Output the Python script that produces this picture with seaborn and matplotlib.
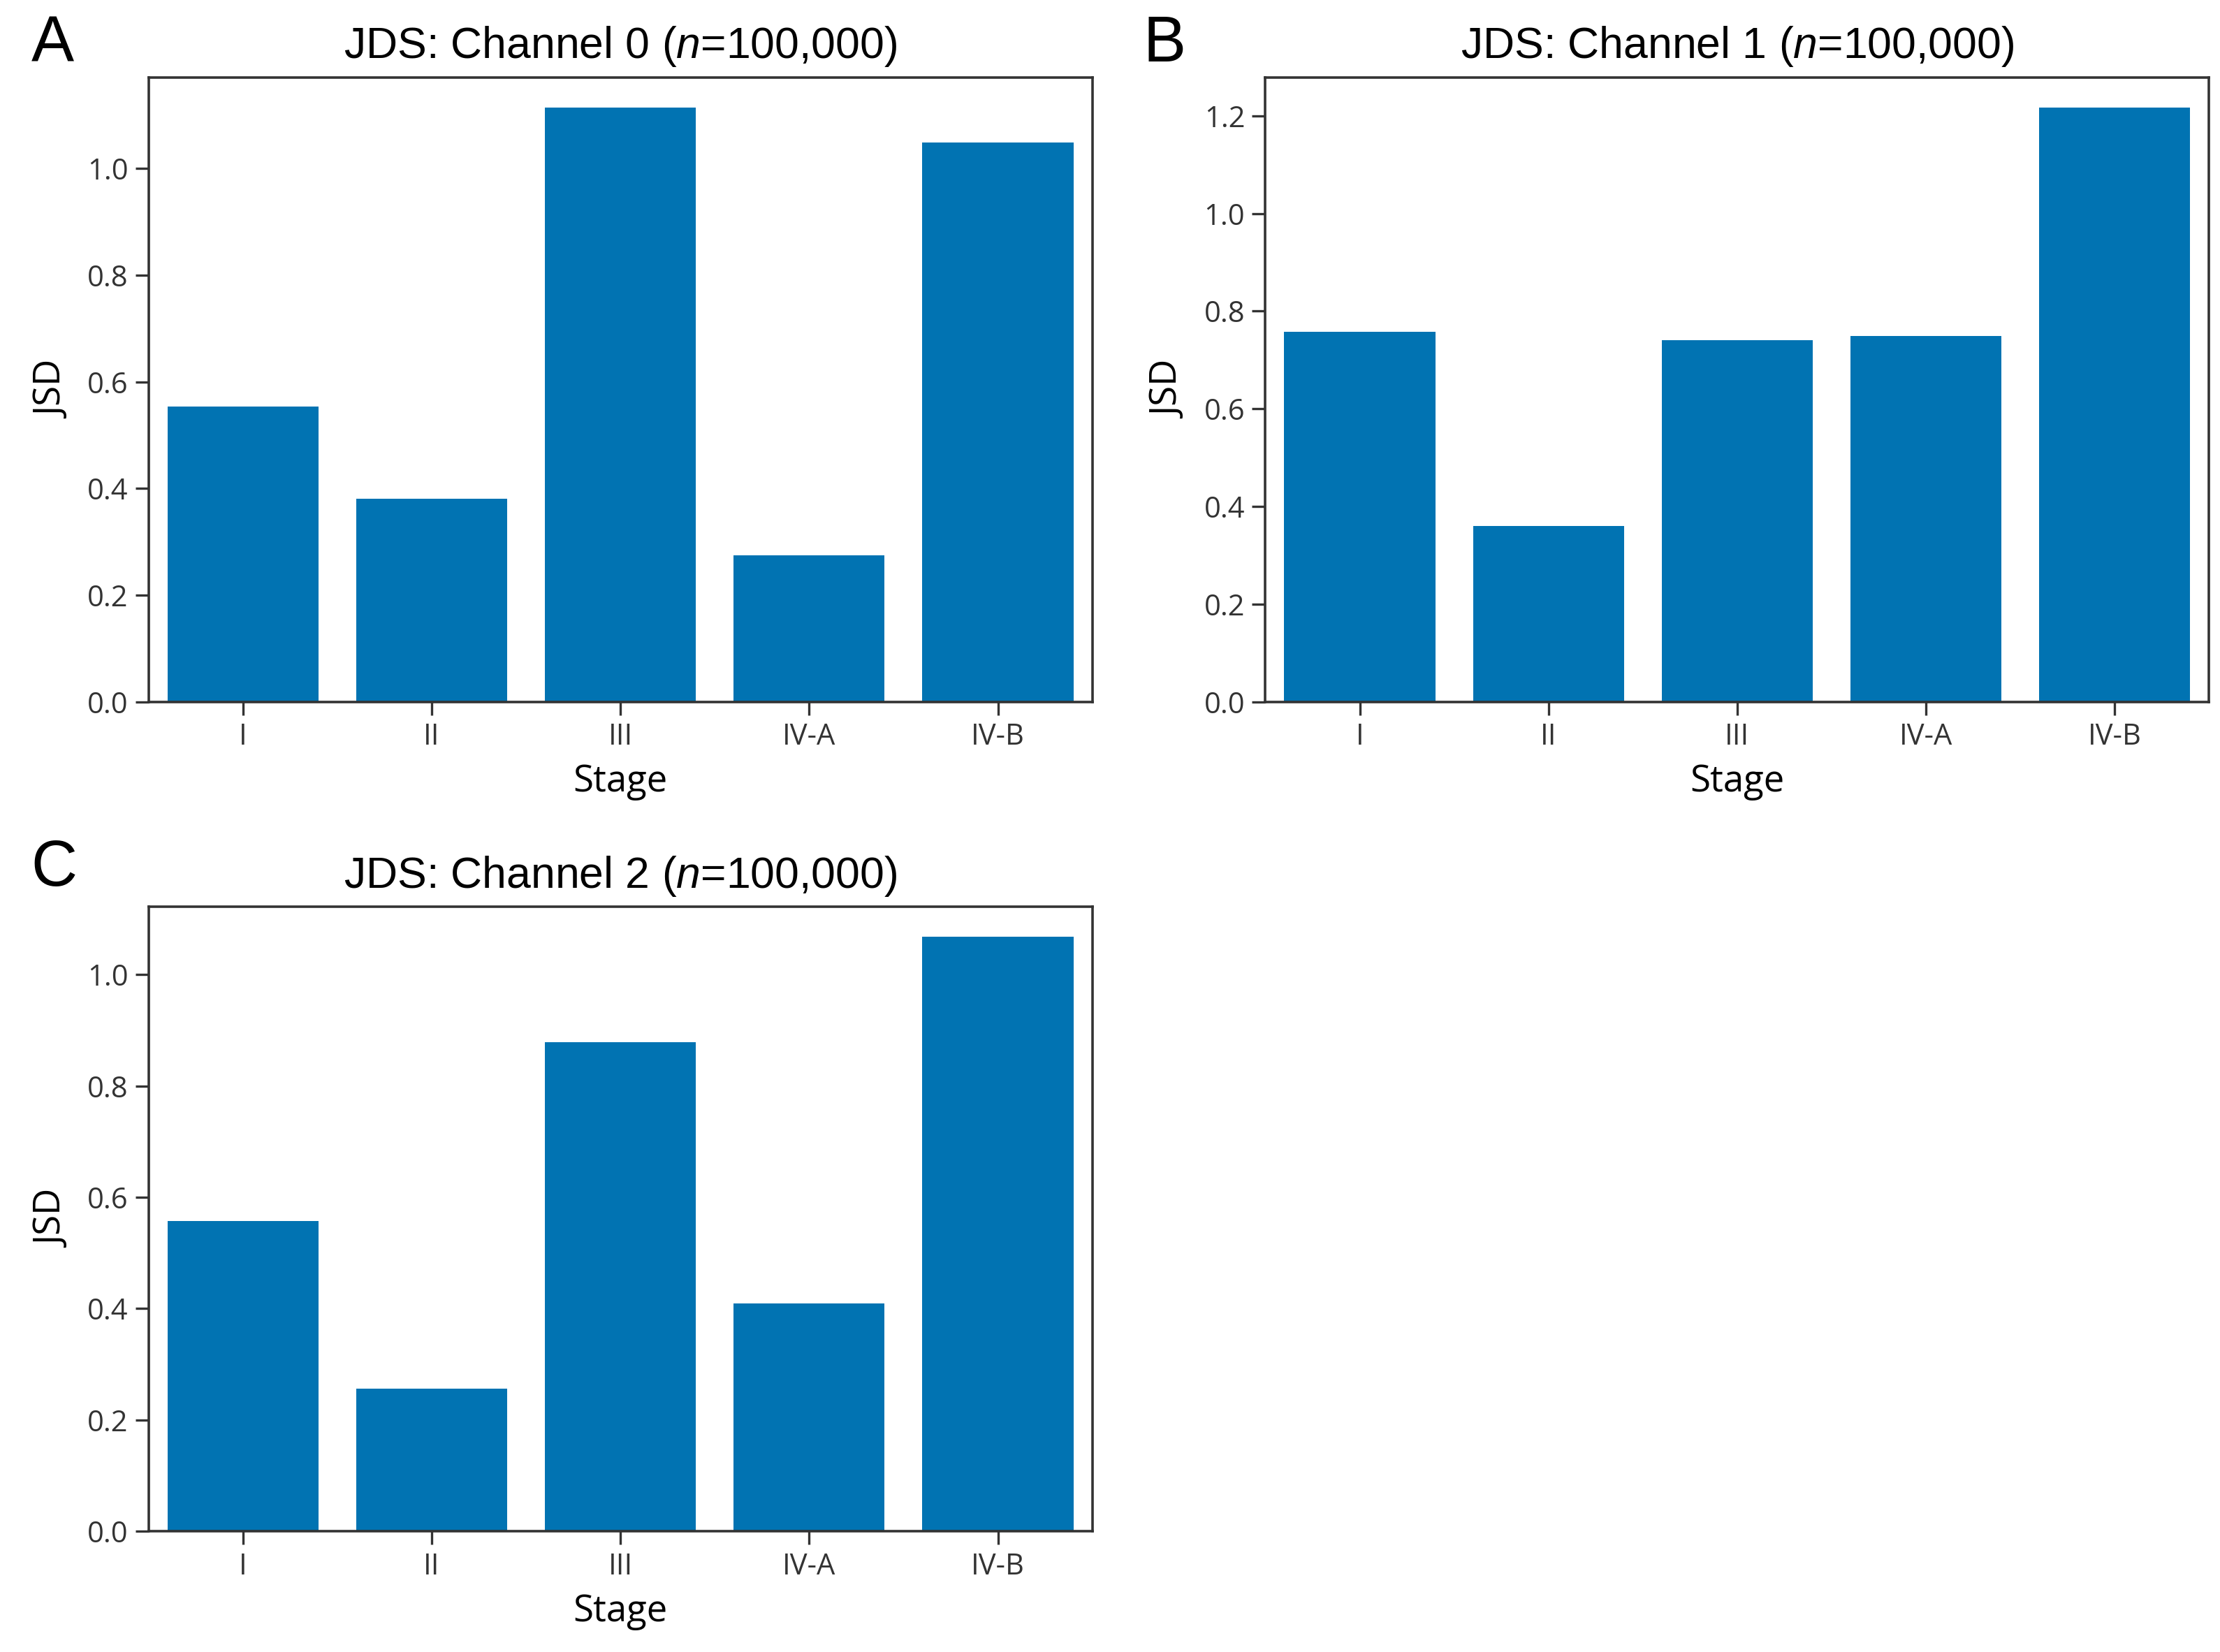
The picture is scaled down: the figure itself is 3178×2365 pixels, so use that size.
import matplotlib
matplotlib.use("Agg")
import matplotlib.pyplot as plt
import seaborn as sns
import pandas as pd

# Stages and JSD values per channel
stages = ["I", "II", "III", "IV-A", "IV-B"]
jsd_ch0 = [0.553, 0.381, 1.114, 0.275, 1.048]
jsd_ch1 = [0.758, 0.361, 0.740, 0.749, 1.217]
jsd_ch2 = [0.558, 0.256, 0.878, 0.409, 1.068]
titles = ["JDS: Channel 0 ($n$=100,000)", "JDS: Channel 1 ($n$=100,000)", "JDS: Channel 2 ($n$=100,000)"]
panel_letters = ["A", "B", "C"]

plt.rcParams["font.family"] = ["Open Sans", "DejaVu Sans"]
plt.rcParams["mathtext.fontset"] = "custom"
plt.rcParams["mathtext.it"] = "Liberation Sans:italic"
plt.rcParams["mathtext.rm"] = "Liberation Sans"

bar_color = sns.color_palette("colorblind")[0]

fig = plt.figure(figsize=(15.89, 11.825), dpi=200)

# axes positions [left, bottom, width, height]
positions = [
    [0.067, 0.575, 0.425, 0.378],
    [0.570, 0.575, 0.425, 0.378],
    [0.067, 0.073, 0.425, 0.378],
]
# panel letter positions (figure fraction)
letter_pos = [(0.014, 0.991), (0.515, 0.991), (0.014, 0.492)]

for values, title, letter, pos, lp in zip([jsd_ch0, jsd_ch1, jsd_ch2], titles, panel_letters, positions, letter_pos):
    ax = fig.add_axes(pos)
    df = pd.DataFrame({"Stage": stages, "JSD": values})
    sns.barplot(data=df, x="Stage", y="JSD", color=bar_color, saturation=1, width=0.8, ax=ax)
    ax.set_xlim(-0.5, 4.5)
    ax.set_ylim(0, max(values) * 1.05)
    ax.set_title(title, fontsize=22.5, family="Liberation Sans", pad=10)
    ax.set_xlabel("Stage", fontsize=19, labelpad=6)
    ax.set_ylabel("JSD", fontsize=19, labelpad=8)
    ax.tick_params(axis="both", labelsize=15, length=7, width=1.2, colors="#333333")
    for sp in ax.spines.values():
        sp.set_linewidth(1.3)
        sp.set_color("#333333")
    fig.text(lp[0], lp[1], letter, fontsize=33, family="Liberation Sans", va="top", ha="left")

fig.savefig("out.png", dpi=200)
